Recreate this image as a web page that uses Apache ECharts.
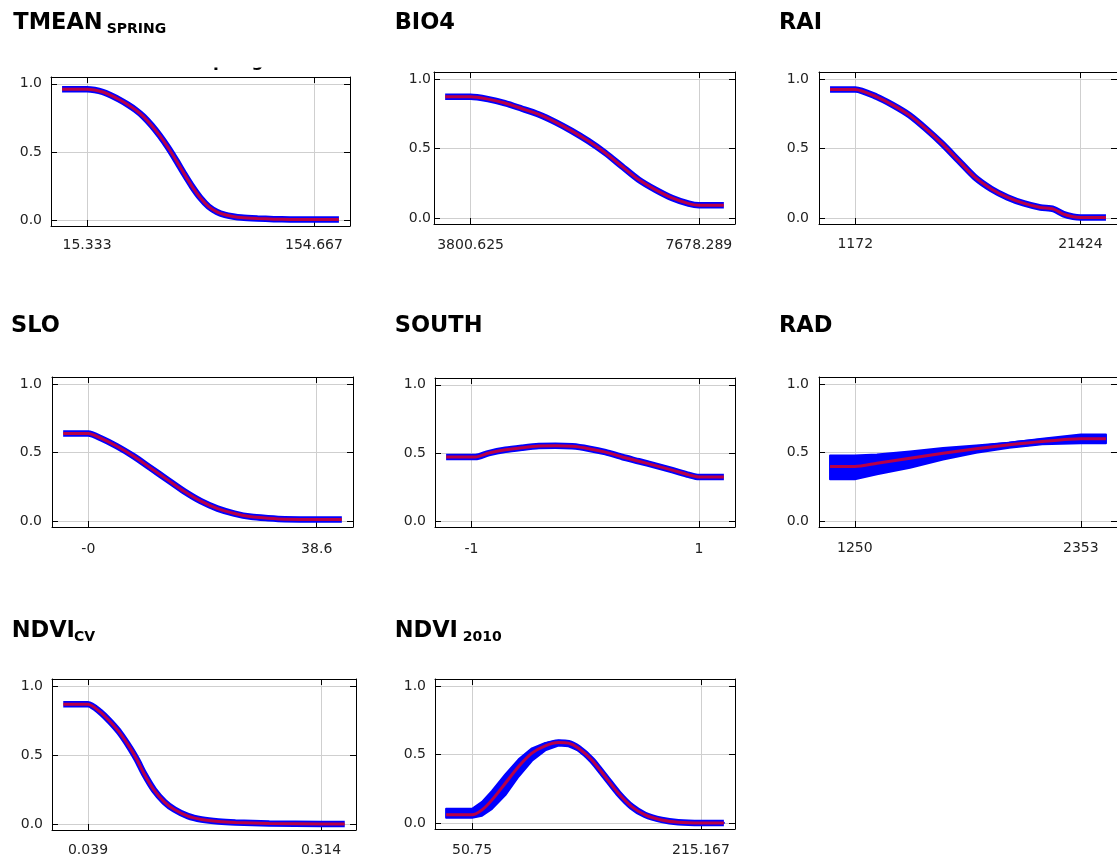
<!DOCTYPE html>
<html>
<head>
<meta charset="utf-8">
<script src="https://cdn.jsdelivr.net/npm/echarts@6/dist/echarts.min.js"></script>
<style>html,body{margin:0;padding:0;background:#fff}#c{width:1117px;height:859px}</style>
</head>
<body>
<div id="c"></div>
<script>
// ---------- DATA ----------
const mainTitles = ['TMEAN', 'BIO4', 'RAI', 'SLO', 'SOUTH', 'RAD', 'NDVI', 'NDVI'];
const subTitles  = ['SPRING', '', '', '', '', '', 'CV', '2010'];

const tmeanTicks = ['15.333', '154.667'];
const tmeanX = [0, 15.33, 20, 25, 30, 35, 40, 45, 50, 55, 60, 65, 70, 75, 80, 85, 90, 95, 100, 105, 110, 120, 130, 140, 154.67, 170];
const tmeanY = [0.961, 0.961, 0.955, 0.94, 0.915, 0.885, 0.85, 0.81, 0.76, 0.695, 0.62, 0.535, 0.44, 0.34, 0.245, 0.163, 0.1, 0.062, 0.04, 0.028, 0.02, 0.013, 0.008, 0.006, 0.005, 0.005];

const bio4Ticks = ['3800.625', '7678.289'];
const bio4X = [3368.6, 3800.6, 4096.2, 4380.4, 4664.6, 4948.8, 5233.0, 5517.2, 5801.4, 6085.6, 6369.8, 6654.0, 6938.2, 7222.4, 7506.6, 7678.3, 8103.2];
const bio4Y = [0.872, 0.872, 0.855, 0.827, 0.788, 0.747, 0.692, 0.627, 0.554, 0.47, 0.373, 0.277, 0.205, 0.145, 0.104, 0.092, 0.092];

const raiTicks = ['1172', '21424'];
const raiX = [-1098, 1172, 3088, 4562, 6036, 7510, 8984, 10458, 11932, 13406, 14880, 16354, 17828, 19007, 19892, 20776, 21424, 23724];
const raiY = [0.925, 0.925, 0.872, 0.812, 0.74, 0.643, 0.535, 0.414, 0.294, 0.21, 0.149, 0.106, 0.077, 0.065, 0.029, 0.01, 0.005, 0.005];

const sloTicks = ['-0', '38.6'];
const sloX = [-4.26, 0, 1.99, 4.82, 7.66, 10.5, 13.34, 16.18, 19.01, 21.85, 24.69, 27.53, 30.37, 33.2, 38.6, 42.85];
const sloY = [0.638, 0.638, 0.607, 0.546, 0.473, 0.388, 0.303, 0.218, 0.146, 0.092, 0.056, 0.032, 0.022, 0.015, 0.012, 0.012];

const southTicks = ['-1', '1'];
const southX = [-1.223, -1, -0.965, -0.847, -0.701, -0.554, -0.408, -0.261, -0.114, 0.032, 0.179, 0.326, 0.472, 0.619, 0.766, 0.912, 1.0, 1.22];
const southY = [0.471, 0.471, 0.471, 0.5, 0.524, 0.539, 0.551, 0.554, 0.549, 0.532, 0.507, 0.471, 0.44, 0.408, 0.375, 0.34, 0.324, 0.324];

const radTicks = ['1250', '2353'];
const radX  = [1129.1, 1250, 1358, 1519.3, 1680.6, 1841.8, 2003.1, 2164.3, 2353, 2475.6];
const radY  = [0.398, 0.398, 0.422, 0.459, 0.495, 0.527, 0.556, 0.58, 0.6, 0.6];
const radHi = [0.478, 0.478, 0.486, 0.508, 0.534, 0.552, 0.572, 0.6, 0.632, 0.632];
const radLo = [0.305, 0.305, 0.342, 0.39, 0.45, 0.498, 0.535, 0.56, 0.568, 0.568];

const ndvicvTicks = ['0.039', '0.314'];
const ndvicvX = [0.0098, 0.039, 0.053, 0.065, 0.077, 0.089, 0.097, 0.105, 0.117, 0.129, 0.141, 0.157, 0.173, 0.193, 0.213, 0.253, 0.314, 0.342];
const ndvicvY = [0.867, 0.867, 0.814, 0.742, 0.657, 0.548, 0.464, 0.367, 0.246, 0.162, 0.106, 0.058, 0.034, 0.019, 0.012, 0.005, 0.002, 0.002];

const ndvi2010Ticks = ['50.75', '215.167'];
const ndvi2010X  = [32.11, 50.75, 57.92, 65.09, 74.65, 84.21, 93.77, 103.33, 112.88, 120.05, 127.22, 136.78, 146.34, 155.9, 165.46, 175.02, 186.97, 198.92, 215.17, 231.66];
const ndvi2010Y  = [0.061, 0.061, 0.097, 0.17, 0.291, 0.413, 0.51, 0.563, 0.587, 0.583, 0.546, 0.461, 0.34, 0.218, 0.121, 0.061, 0.024, 0.007, 0.002, 0.002];
const ndvi2010Hi = [0.105, 0.105, 0.155, 0.235, 0.355, 0.465, 0.545, 0.585, 0.6, 0.595, 0.56, 0.47, 0.35, 0.228, 0.128, 0.066, 0.027, 0.009, 0.003, 0.003];
const ndvi2010Lo = [0.04, 0.04, 0.055, 0.105, 0.205, 0.34, 0.455, 0.53, 0.565, 0.56, 0.528, 0.448, 0.326, 0.206, 0.112, 0.054, 0.02, 0.005, 0.001, 0.001];

const yTickValues = [0, 0.5, 1];
const hiddenTitleText = 'spring';

// ---------- LAYOUT ----------
const panelX     = [tmeanX, bio4X, raiX, sloX, southX, radX, ndvicvX, ndvi2010X];
const panelY     = [tmeanY, bio4Y, raiY, sloY, southY, radY, ndvicvY, ndvi2010Y];
const panelHi    = [null, null, null, null, null, radHi, null, ndvi2010Hi];
const panelLo    = [null, null, null, null, null, radLo, null, ndvi2010Lo];
const panelTicks = [tmeanTicks, bio4Ticks, raiTicks, sloTicks, southTicks, radTicks, ndvicvTicks, ndvi2010Ticks];

const gridLeft = [51, 434, 819, 52, 435, 819, 52, 435];
const gridTop  = [77, 72, 72, 377, 378, 377, 679, 679];
const gridW    = [299, 301, 303, 301, 300, 302, 304, 300];
const gridH    = [149, 152, 152, 150, 149, 150, 151, 150];
const yMargin  = [9, 3, 10, 10, 9, 10, 9, 9];
const xMargin  = [12, 14, 13, 15, 15, 14, 13, 14];
const titleX   = [13.3, 394.7, 779, 11, 394.7, 779, 11.7, 394.7];
const titleY   = [23, 23, 23.3, 326, 326, 326, 631.5, 631.5];
const subX     = [106.7, 0, 0, 0, 0, 0, 74, 462.7];
const subY     = [29.8, 0, 0, 0, 0, 0, 637, 637];
const Y_MIN = -0.042, Y_MAX = 1.05;

const BLUE = '#0000ff';
const RED = 'rgba(255,0,0,0.72)';
const GRIDC = '#cfcfcf';
const LABEL_FONT = 'DejaVu Sans';

const grids = [], xAxes = [], yAxes = [], series = [], graphics = [];

for (let i = 0; i < 8; i++) {
  const xs = panelX[i], ys = panelY[i];
  const lo = xs[0], hi = xs[xs.length - 1];
  const pad = 0.04 * (hi - lo);
  const xmin = lo - pad, xmax = hi + pad;
  const tickLabels = panelTicks[i];
  const tickVals = tickLabels.map(Number);
  grids.push({ left: gridLeft[i], top: gridTop[i], width: gridW[i], height: gridH[i], containLabel: false });

  const axLine = { show: true, onZero: false, lineStyle: { color: '#000', width: 1 } };
  const tickStyle = { color: '#000', width: 1 };
  xAxes.push({
    gridIndex: i, type: 'value', position: 'bottom', min: xmin, max: xmax,
    axisLine: axLine,
    axisTick: { show: true, inside: true, length: 6, customValues: tickVals, lineStyle: tickStyle },
    axisLabel: {
      show: true, customValues: tickVals, margin: xMargin[i],
      fontFamily: LABEL_FONT, fontSize: 14, color: '#222',
      formatter: function (v) {
        let best = 0;
        for (let k = 1; k < tickVals.length; k++) if (Math.abs(v - tickVals[k]) < Math.abs(v - tickVals[best])) best = k;
        return tickLabels[best];
      }
    },
    splitLine: { show: true, lineStyle: { color: GRIDC, width: 1 } }
  });
  xAxes.push({
    gridIndex: i, type: 'value', position: 'top', min: xmin, max: xmax,
    axisLine: axLine,
    axisTick: { show: true, inside: true, length: 6, customValues: tickVals, lineStyle: tickStyle },
    axisLabel: { show: false },
    splitLine: { show: false }
  });
  yAxes.push({
    gridIndex: i, type: 'value', position: 'left', min: Y_MIN, max: Y_MAX,
    axisLine: axLine,
    axisTick: { show: true, inside: true, length: 6, customValues: yTickValues, lineStyle: tickStyle },
    axisLabel: {
      show: true, customValues: yTickValues, margin: yMargin[i],
      fontFamily: LABEL_FONT, fontSize: 14, color: '#222',
      formatter: v => v.toFixed(1)
    },
    splitLine: { show: true, lineStyle: { color: GRIDC, width: 1 } }
  });
  yAxes.push({
    gridIndex: i, type: 'value', position: 'right', min: Y_MIN, max: Y_MAX,
    axisLine: axLine,
    axisTick: { show: true, inside: true, length: 6, customValues: yTickValues, lineStyle: tickStyle },
    axisLabel: { show: false },
    splitLine: { show: false }
  });

  const xa = 2 * i, ya = 2 * i;
  const hiArr = panelHi[i], loArr = panelLo[i];
  if (hiArr) {
    series.push({
      type: 'custom', xAxisIndex: xa, yAxisIndex: ya, silent: true, clip: true,
      data: [[xs[0], ys[0]]],
      renderItem: function (params, api) {
        const pts = [];
        for (let k = 0; k < xs.length; k++) pts.push(api.coord([xs[k], hiArr[k]]));
        for (let k = xs.length - 1; k >= 0; k--) pts.push(api.coord([xs[k], loArr[k]]));
        return {
          type: 'polygon',
          shape: { points: pts },
          style: { fill: BLUE, stroke: BLUE, lineWidth: 2, lineJoin: 'round' }
        };
      }
    });
  }
  series.push({
    type: 'line', xAxisIndex: xa, yAxisIndex: ya, silent: true, smooth: 0.25,
    data: xs.map((x, k) => [x, ys[k]]), showSymbol: false, symbol: 'none',
    lineStyle: { color: BLUE, width: 6.5 }
  });
  series.push({
    type: 'line', xAxisIndex: xa, yAxisIndex: ya, silent: true, smooth: 0.25,
    data: xs.map((x, k) => [x, ys[k]]), showSymbol: false, symbol: 'none',
    lineStyle: { color: RED, width: 3 }
  });

  graphics.push({
    type: 'text', x: titleX[i], y: titleY[i], z: 10,
    style: { text: mainTitles[i], font: 'bold 22.5px "DejaVu Sans"', fill: '#000', align: 'left', verticalAlign: 'middle' }
  });
  if (subTitles[i]) {
    graphics.push({
      type: 'text', x: subX[i], y: subY[i], z: 10,
      style: { text: subTitles[i], font: 'bold 14px "DejaVu Sans"', fill: '#000', align: 'left', verticalAlign: 'middle' }
    });
  }
}

// partially hidden original plot title above the first panel
graphics.push({
  type: 'text', x: 203, y: 61.5, z: 5,
  style: { text: hiddenTitleText, font: 'bold 17px "DejaVu Sans"', fill: '#000', align: 'left', verticalAlign: 'middle' }
});
graphics.push({
  type: 'rect', z: 6, shape: { x: 190, y: 40, width: 100, height: 27.5 },
  style: { fill: '#fff' }
});

const chart = echarts.init(document.getElementById('c'), null, { renderer: 'canvas' });
chart.setOption({
  animation: false,
  backgroundColor: '#fff',
  grid: grids,
  xAxis: xAxes,
  yAxis: yAxes,
  series: series,
  graphic: graphics
});
</script>
</body>
</html>
